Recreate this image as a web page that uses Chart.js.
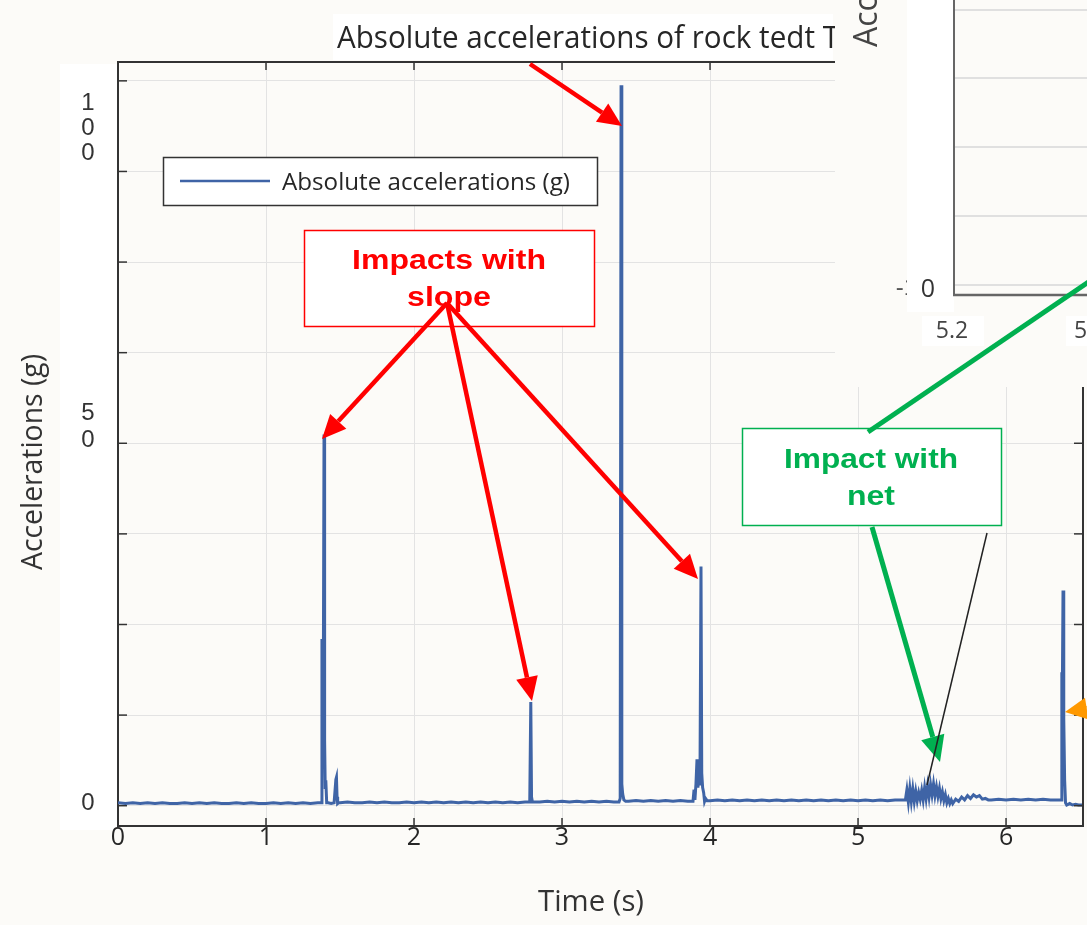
<!DOCTYPE html>
<html><head><meta charset="utf-8">
<style>html,body{margin:0;padding:0;background:#fcfbf8;overflow:hidden}canvas{display:block}</style>
<script src="https://cdn.jsdelivr.net/npm/chart.js@4.4.1/dist/chart.umd.min.js"></script>
</head><body>
<canvas id="c" width="1087" height="925"></canvas>
<script>
// ---- data ----
const timeS = [
  0,0.05,0.1,0.15,0.2,0.25,0.3,0.35,0.4,0.45,0.5,0.55,0.6,0.65,0.7,0.75,0.8,0.85,0.9,0.95,1,1.05,1.1,1.15,1.2,1.25,1.3,1.35,
  1.374,1.378,1.382,1.386,1.392,1.396,1.400,1.404,1.410,1.42,1.44,1.46,1.472,1.476,1.480,1.484,1.49,
  1.5,1.55,1.6,1.65,1.7,1.75,1.8,1.85,1.9,1.95,2,2.05,2.1,2.15,2.2,2.25,2.3,2.35,2.4,2.45,2.5,2.55,2.6,2.65,2.7,2.75,
  2.782,2.789,2.794,2.80,
  2.85,2.9,2.95,3,3.05,3.1,3.15,3.2,3.25,3.3,3.35,
  3.385,3.393,3.399,3.404,3.410,3.418,3.43,
  3.45,3.5,3.55,3.6,3.65,3.7,3.75,3.8,3.85,
  3.885,3.892,3.898,3.905,3.912,3.918,3.925,3.932,3.939,3.944,3.950,3.957,3.963,3.97,3.98,
  4,4.05,4.1,4.15,4.2,4.25,4.3,4.35,4.4,4.45,4.5,4.55,4.6,4.65,4.7,4.75,4.8,4.85,4.9,4.95,5,5.05,5.1,5.15,5.2,5.25,5.3,
  5.32,5.33,5.34,5.35,5.36,5.37,5.38,5.39,5.40,5.41,5.42,5.43,5.44,5.45,5.46,5.47,5.48,5.49,5.50,5.51,5.52,5.53,5.54,5.55,5.56,5.57,5.58,5.59,5.60,5.61,5.62,5.63,5.64,
  5.66,5.68,5.70,5.72,5.74,5.76,5.78,5.80,5.82,5.84,5.86,5.88,
  5.9,5.95,6,6.05,6.1,6.15,6.2,6.25,6.3,6.35,
  6.372,6.377,6.381,6.385,6.390,6.396,6.402,6.41,6.43,6.45,6.47,6.49,6.51,6.52
];
const accelG = [
  0.4,0.3,0.4,0.3,0.4,0.3,0.4,0.3,0.3,0.4,0.3,0.4,0.3,0.4,0.3,0.3,0.4,0.3,0.4,0.3,0.3,0.4,0.3,0.4,0.3,0.4,0.3,0.4,
  0.4,23.0,21.5,8.0,51.2,9.0,2.5,3.5,0.4,0.4,0.3,0.4,3.6,3.9,1.2,0.3,0.4,
  0.4,0.5,0.4,0.4,0.5,0.4,0.5,0.4,0.4,0.5,0.4,0.5,0.4,0.5,0.4,0.5,0.4,0.5,0.4,0.5,0.4,0.5,0.4,0.5,0.4,0.5,
  0.5,14.3,1.2,0.5,
  0.5,0.6,0.5,0.6,0.5,0.6,0.5,0.6,0.5,0.6,0.5,
  0.5,1.0,99.4,3.0,1.6,0.8,0.6,
  0.6,0.7,0.6,0.7,0.6,0.7,0.6,0.7,0.6,
  0.6,2.2,0.8,3.0,6.4,2.5,4.0,2.8,33.0,4.5,2.5,1.8,0.6,1.0,0.7,
  0.7,0.8,0.7,0.8,0.7,0.8,0.7,0.8,0.7,0.8,0.7,0.8,0.7,0.8,0.7,0.8,0.7,0.8,0.7,0.8,0.7,0.8,0.7,0.8,0.7,0.8,0.8,
  0.8,2.2,0.5,2.4,0.6,2.3,0.6,2.0,0.7,1.8,0.9,2.1,0.8,2.5,1.0,2.7,1.2,2.9,1.5,3.0,1.4,2.6,1.3,2.4,1.0,1.9,0.7,1.5,0.4,1.0,0.3,0.8,0.3,
  0.9,0.6,1.2,0.8,1.4,1.0,1.5,1.2,1.4,0.9,1.0,0.8,
  0.8,0.9,0.8,0.9,0.8,0.9,0.8,0.9,0.8,0.8,
  0.8,18.4,17.5,29.7,12.0,3.5,0.4,0.1,0.3,0.1,0.2,0.1,0.1,0.1
];
const xTicks = [0,1,2,3,4,5,6];
const yTicks = [0,12.5,25,37.5,50,62.5,75,87.5,100];
const yTickLabels = [['1','0','0'],['5','0'],['0']];
const legendLabel = 'Absolute accelerations (g)';
const titleText = 'Absolute accelerations of rock tedt T';
const xTitle = 'Time (s)';
const yTitle = 'Accelerations (g)';
const insetYTitle = 'Accelerations (g)';
const insetXLabels = ['5.2','5.4'];
const insetYLabels = ['-1','0'];
const slopeNote = ['Impacts with','slope'];
const netNote = ['Impact with','net'];

// ---- helpers ----
function arrow(ctx,x1,y1,x2,y2,color,w,hl,hw){
  const a=Math.atan2(y2-y1,x2-x1);
  const bx=x2-hl*Math.cos(a), by=y2-hl*Math.sin(a);
  ctx.save(); ctx.strokeStyle=color; ctx.fillStyle=color; ctx.lineWidth=w;
  ctx.beginPath(); ctx.moveTo(x1,y1); ctx.lineTo(bx,by); ctx.stroke();
  ctx.beginPath(); ctx.moveTo(x2,y2);
  ctx.lineTo(bx+hw*Math.sin(a), by-hw*Math.cos(a));
  ctx.lineTo(bx-hw*Math.sin(a), by+hw*Math.cos(a));
  ctx.closePath(); ctx.fill(); ctx.restore();
}
function fitText(ctx,text,x,y,font,targetW,align,color,rot){
  ctx.save(); ctx.font=font; ctx.fillStyle=color;
  const w=ctx.measureText(text).width; const sx=targetW/w;
  ctx.translate(x,y); if(rot) ctx.rotate(rot); ctx.scale(sx,1);
  ctx.textAlign=align||'left'; ctx.textBaseline='middle';
  ctx.fillText(text,0,0); ctx.restore();
}
function line(ctx,x1,y1,x2,y2,color,w){
  ctx.save(); ctx.strokeStyle=color; ctx.lineWidth=w; ctx.beginPath(); ctx.moveTo(x1,y1); ctx.lineTo(x2,y2); ctx.stroke(); ctx.restore();
}

const decor = {
  id:'decor',
  beforeDraw(c){
    const ctx=c.ctx; ctx.save();
    ctx.fillStyle='#fcfbf8'; ctx.fillRect(0,0,c.width,c.height);
    ctx.fillStyle='#ffffff'; ctx.fillRect(60,64,57,766); ctx.fillRect(333,14,500,46);
    ctx.restore();
  },
  afterDraw(c){
    const ctx=c.ctx, ca=c.chartArea, xs=c.scales.x, ys=c.scales.y;
    const ax='#333333';
    // frame
    line(ctx,ca.left,ca.top,835,ca.top,ax,2);
    line(ctx,ca.right,387,ca.right,ca.bottom+1,ax,2);
    // inward ticks
    yTicks.forEach(v=>{const py=ys.getPixelForValue(v);
      line(ctx,ca.left,py,ca.left+9,py,ax,1.5);
      if(py>390) line(ctx,ca.right-9,py,ca.right,py,ax,1.5);});
    xTicks.forEach(v=>{const px=xs.getPixelForValue(v);
      line(ctx,px,ca.bottom,px,ca.bottom-8,ax,1.5);
      if(px<830) line(ctx,px,ca.top,px,ca.top+8,ax,1.5);});
    // y tick labels (custom stacked)
    ctx.save(); ctx.font='24px "Liberation Sans"'; ctx.fillStyle='#333'; ctx.textAlign='center'; ctx.textBaseline='middle';
    const lblY=[[103,128,153],[413,440],[803]];
    yTickLabels.forEach((lines,i)=>lines.forEach((s,j)=>ctx.fillText(s,88,lblY[i][j])));
    ctx.restore();
    // axis titles
    fitText(ctx,xTitle,591,902,'30px "Open Sans"',106,'center','#333');
    fitText(ctx,yTitle,33,462,'30px "Open Sans"',216,'center','#333',-Math.PI/2);
    // title
    ctx.save(); ctx.beginPath(); ctx.rect(0,0,835,62); ctx.clip();
    fitText(ctx,titleText,337,39,'31px "Open Sans"',502,'left','#262626');
    ctx.restore();
    // inset
    ctx.save();
    ctx.fillStyle='#fcfbf8'; ctx.fillRect(835,0,252,387);
    ctx.font='24px "Liberation Sans"'; ctx.fillStyle='#555'; ctx.textAlign='right'; ctx.textBaseline='middle';
    ctx.fillText(insetYLabels[0],917,288);
    ctx.fillStyle='#ffffff'; ctx.fillRect(907,0,47,312);
    [10,78,147,216,285].forEach(y=>line(ctx,955,y,1087,y,'#e0e0e0',2));
    line(ctx,954,0,954,296,'#666',2); line(ctx,953,295,1087,295,'#666',2.5);
    ctx.font='25px "Open Sans"'; ctx.fillStyle='#333'; ctx.textAlign='center';
    ctx.fillText(insetYLabels[1],928,290);
    ctx.fillStyle='#ffffff'; ctx.fillRect(922,316,62,30); ctx.fillRect(1066,316,21,30);
    ctx.fillStyle='#444'; ctx.font='23px "Open Sans"';
    ctx.fillText(insetXLabels[0],952,331);
    ctx.textAlign='left'; ctx.fillText(insetXLabels[1],1074,331);
    ctx.restore();
    ctx.save(); ctx.font='32px "Open Sans"'; ctx.fillStyle='#444'; ctx.translate(877,47); ctx.rotate(-Math.PI/2);
    ctx.textAlign='left'; ctx.textBaseline='alphabetic'; ctx.fillText(insetYTitle,0,0); ctx.restore();
    // legend
    const ds=c.data.datasets[0];
    ctx.save(); ctx.fillStyle='#ffffff'; ctx.fillRect(163,157,434,48);
    ctx.strokeStyle='#333'; ctx.lineWidth=1.5; ctx.strokeRect(163.5,157.5,434,48); ctx.restore();
    line(ctx,180,181,270,181,ds.borderColor,2.5);
    fitText(ctx,ds.label,282,183,'23px "Open Sans"',288,'left','#262626');
    // note boxes
    ctx.save(); ctx.fillStyle='#ffffff'; ctx.fillRect(304,230,290,96); ctx.fillRect(742,428,259,97);
    ctx.lineWidth=1.5; ctx.strokeStyle='#ff0000'; ctx.strokeRect(304.5,230.5,290,96);
    ctx.strokeStyle='#00b050'; ctx.strokeRect(742.5,428.5,259,97); ctx.restore();
    fitText(ctx,slopeNote[0],449,261,'bold 28px "Liberation Sans"',194,'center','#ff0000');
    fitText(ctx,slopeNote[1],449,298,'bold 28px "Liberation Sans"',84,'center','#ff0000');
    fitText(ctx,netNote[0],871,460,'bold 28px "Liberation Sans"',174,'center','#00b050');
    fitText(ctx,netNote[1],871,497,'bold 28px "Liberation Sans"',48,'center','#00b050');
    // arrows
    arrow(ctx,530,64,622,126,'#ff0000',4.5,24,11);
    arrow(ctx,447,303,322,439,'#ff0000',4.5,24,11);
    arrow(ctx,447,303,532,701,'#ff0000',4.5,24,11);
    arrow(ctx,447,303,698,579,'#ff0000',4.5,24,11);
    line(ctx,868,432,1090,281,'#00b050',5);
    arrow(ctx,872,527,940,762,'#00b050',5,26,12);
    line(ctx,987,533,927,785,'#222',1.5);
    arrow(ctx,1115,704,1065,712,'#ff9900',5,22,11);
  }
};

new Chart(document.getElementById('c'), {
  type:'line',
  data:{datasets:[{label:legendLabel, data:timeS.map((t,i)=>({x:t,y:accelG[i]})),
    borderColor:'#3f64a6', borderWidth:3, pointRadius:0, tension:0, fill:false}]},
  options:{
    responsive:false, animation:false, devicePixelRatio:1,
    layout:{padding:{left:0,top:62,right:4,bottom:0}},
    plugins:{legend:{display:false},title:{display:false},tooltip:{enabled:false}},
    scales:{
      x:{type:'linear',min:0,max:6.52,
        afterBuildTicks:a=>{a.ticks=xTicks.map(v=>({value:v}));},
        afterFit:s=>{s.height=99;},
        grid:{color:'#e3e3e3',lineWidth:1,drawTicks:false},
        border:{display:true,color:'#333',width:2},
        ticks:{font:{family:'Open Sans',size:25},color:'#262626',padding:-3,maxRotation:0,callback:v=>String(v)}},
      y:{type:'linear',min:-2.8,max:102.6,
        afterBuildTicks:a=>{a.ticks=yTicks.map(v=>({value:v}));},
        afterFit:s=>{s.width=118;},
        grid:{color:'#e3e3e3',lineWidth:1,drawTicks:false},
        border:{display:true,color:'#333',width:2},
        ticks:{display:false}}
    }
  },
  plugins:[decor]
});
</script>
</body></html>
